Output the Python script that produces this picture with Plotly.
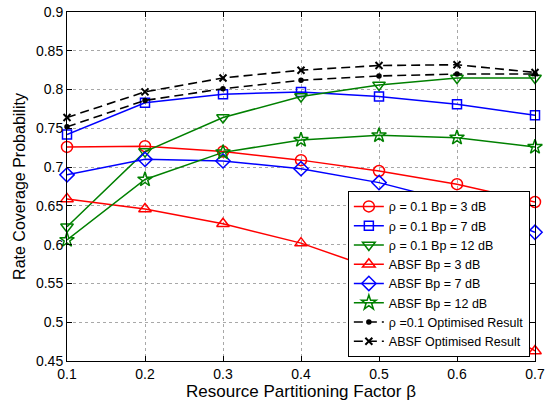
import plotly.graph_objects as go

beta = [0.1, 0.2, 0.3, 0.4, 0.5, 0.6, 0.7]

rho_3db = [0.726, 0.727, 0.720, 0.709, 0.695, 0.678, 0.655]
rho_7db = [0.742, 0.783, 0.794, 0.797, 0.791, 0.781, 0.767]
rho_12db = [0.623, 0.720, 0.764, 0.791, 0.806, 0.815, 0.815]
absf_3db = [0.659, 0.646, 0.627, 0.602, 0.567, 0.520, 0.463]
absf_7db = [0.690, 0.710, 0.708, 0.698, 0.680, 0.654, 0.616]
absf_12db = [0.606, 0.684, 0.719, 0.735, 0.741, 0.738, 0.726]
rho_opt = [0.752, 0.786, 0.801, 0.812, 0.8175, 0.820, 0.820]
absf_opt = [0.764, 0.797, 0.815, 0.825, 0.831, 0.832, 0.822]

x_ticks = [0.1, 0.2, 0.3, 0.4, 0.5, 0.6, 0.7]
x_labels = ["0.1", "0.2", "0.3", "0.4", "0.5", "0.6", "0.7"]
y_ticks = [0.45, 0.5, 0.55, 0.6, 0.65, 0.7, 0.75, 0.8, 0.85, 0.9]
y_labels = ["0.45", "0.5", "0.55", "0.6", "0.65", "0.7", "0.75", "0.8", "0.85", "0.9"]

RED = "#ff0000"
BLUE = "#0000ff"
GREEN = "#008000"
BLACK = "#000000"

series = [
    ("ρ = 0.1 Bp = 3 dB", rho_3db, RED, "circle-open", 11, "solid"),
    ("ρ = 0.1 Bp = 7 dB", rho_7db, BLUE, "square-open", 9, "solid"),
    ("ρ = 0.1 Bp = 12 dB", rho_12db, GREEN, "triangle-down-open", 11, "solid"),
    ("ABSF Bp = 3 dB", absf_3db, RED, "triangle-up-open", 11, "solid"),
    ("ABSF Bp = 7 dB", absf_7db, BLUE, "diamond-open", 11, "solid"),
    ("ABSF Bp = 12 dB", absf_12db, GREEN, "star-open", 11, "solid"),
    ("ρ =0.1 Optimised Result", rho_opt, BLACK, "circle", 4, "9px,5px"),
    ("ABSF Optimised Result", absf_opt, BLACK, "x-thin-open", 7, "9px,5px"),
]

fig = go.Figure()
for name, vals, col, sym, size, dash in series:
    fig.add_trace(go.Scatter(
        x=beta, y=vals, name=name, mode="lines+markers",
        line=dict(color=col, width=1.5 if dash == "solid" else 1.6, dash=dash),
        marker=dict(symbol=sym, size=size, color=col,
                    line=dict(color=col, width=1.5 if sym != "x-thin-open" else 2)),
        cliponaxis=False,
    ))

axis_common = dict(
    showline=True, linecolor="black", linewidth=1, mirror="ticks",
    ticks="inside", ticklen=5, tickcolor="black",
    showgrid=True, gridcolor="#a8a8a8", griddash="dot", gridwidth=1,
    zeroline=False, automargin=False,
    tickfont=dict(family="Liberation Sans, Arial", size=14, color="black"),
)

fig.update_layout(
    width=545, height=401,
    margin=dict(l=67, r=10, t=12, b=40),
    paper_bgcolor="white", plot_bgcolor="white",
    font=dict(family="Liberation Sans, Arial", color="black"),
    xaxis=dict(range=[0.1, 0.7], tickvals=x_ticks, ticktext=x_labels,
               title=dict(text="Resource Partitioning Factor β", font=dict(size=17), standoff=2),
               **axis_common),
    yaxis=dict(range=[0.45, 0.9], tickvals=y_ticks, ticktext=y_labels,
               title=dict(text="Rate Coverage Probability", font=dict(size=16), standoff=6),
               **axis_common),
    legend=dict(x=0.989, y=0.012, xanchor="right", yanchor="bottom",
                bgcolor="white", bordercolor="black", borderwidth=1,
                font=dict(size=12.5, family="Liberation Sans, Arial"),
                tracegroupgap=0, itemwidth=30),
    showlegend=True,
)

fig.write_html("out.html", config={"displayModeBar": False},
               post_script="document.body.style.margin='0';")
